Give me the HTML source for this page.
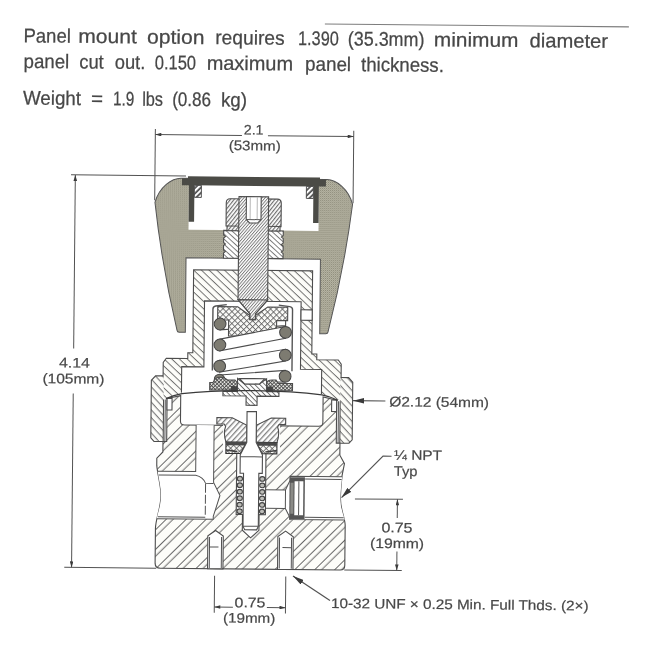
<!DOCTYPE html>
<html><head><meta charset="utf-8">
<style>
html,body{margin:0;padding:0;background:#fff;}
body{width:650px;height:650px;overflow:hidden;font-family:"Liberation Sans",sans-serif;}
svg{display:block;will-change:transform;}
text{font-family:"Liberation Sans",sans-serif;}
.h{font-size:19.8px;fill:#474747;stroke:#474747;stroke-width:0.25;}
.d{font-size:13.8px;fill:#484848;stroke:#484848;stroke-width:0.2;}
.ln{stroke:#525252;stroke-width:1;fill:none;}
.o{stroke:#4d4d4d;stroke-width:1.1;}
</style></head><body>
<svg width="650" height="650" viewBox="0 0 650 650">
<defs>
<pattern id="dots" width="2" height="2" patternUnits="userSpaceOnUse"><rect width="2" height="2" fill="#b7b5a4"/><rect width="1" height="1" fill="#8c8a79"/><rect x="1" y="1" width="1" height="1" fill="#a3a190"/></pattern>
<pattern id="hb" width="14" height="14" patternUnits="userSpaceOnUse" patternTransform="rotate(-45)"><rect width="14" height="14" fill="#fdfdf9"/><line x1="0" y1="0.5" x2="14" y2="0.5" stroke="#686868" stroke-width="1"/><line x1="0" y1="5.3" x2="14" y2="5.3" stroke="#686868" stroke-width="1"/></pattern>
<pattern id="hn" width="5.3" height="5.3" patternUnits="userSpaceOnUse" patternTransform="rotate(43)"><rect width="5.3" height="5.3" fill="#fdfdf9"/><line x1="0" y1="0.5" x2="5.3" y2="0.5" stroke="#6c6c6c" stroke-width="0.95"/></pattern>
<pattern id="hs" width="2.3" height="2.3" patternUnits="userSpaceOnUse" patternTransform="rotate(-50)"><rect width="2.3" height="2.3" fill="#fff"/><line x1="0" y1="0.5" x2="2.3" y2="0.5" stroke="#666" stroke-width="0.8"/></pattern>
<pattern id="hc" width="2.9" height="2.9" patternUnits="userSpaceOnUse" patternTransform="rotate(-52)"><rect width="2.9" height="2.9" fill="#fff"/><line x1="0" y1="0.6" x2="2.9" y2="0.6" stroke="#666" stroke-width="1.1"/></pattern>
<pattern id="hq" width="3.9" height="3.9" patternUnits="userSpaceOnUse" patternTransform="rotate(-48)"><rect width="3.9" height="3.9" fill="#fff"/><line x1="0" y1="0.7" x2="3.9" y2="0.7" stroke="#707070" stroke-width="1.15"/></pattern>
<pattern id="hm" width="5.2" height="5.2" patternUnits="userSpaceOnUse" patternTransform="rotate(47)"><rect width="5.2" height="5.2" fill="#fdfdf9"/><line x1="0" y1="0.6" x2="5.2" y2="0.6" stroke="#6a6a6a" stroke-width="1"/></pattern>
<pattern id="hk" width="3.8" height="3.8" patternUnits="userSpaceOnUse" patternTransform="rotate(-45)"><rect width="3.8" height="3.8" fill="#fff"/><line x1="0" y1="1" x2="3.8" y2="1" stroke="#4a4a4a" stroke-width="1.7"/></pattern>
<pattern id="hl" width="3.8" height="3.8" patternUnits="userSpaceOnUse" patternTransform="rotate(42)"><rect width="3.8" height="3.8" fill="#fff"/><line x1="0" y1="0.5" x2="3.8" y2="0.5" stroke="#707070" stroke-width="0.9"/></pattern>
<pattern id="hr" width="3.6" height="3.6" patternUnits="userSpaceOnUse" patternTransform="rotate(45)"><rect width="3.6" height="3.6" fill="#fff"/><line x1="0" y1="0.5" x2="3.6" y2="0.5" stroke="#666" stroke-width="0.9"/></pattern>
<pattern id="xh" width="4.2" height="4.2" patternUnits="userSpaceOnUse" patternTransform="rotate(45)"><rect width="4.2" height="4.2" fill="#fbfbf8"/><line x1="0" y1="0.5" x2="4.2" y2="0.5" stroke="#5a5a5a" stroke-width="0.8"/><line x1="0.5" y1="0" x2="0.5" y2="4.2" stroke="#5a5a5a" stroke-width="0.8"/></pattern>
<pattern id="xd" width="2.6" height="2.6" patternUnits="userSpaceOnUse" patternTransform="rotate(45)"><rect width="2.6" height="2.6" fill="#f0f0ec"/><line x1="0" y1="0.5" x2="2.6" y2="0.5" stroke="#4a4a4a" stroke-width="0.9"/><line x1="0.5" y1="0" x2="0.5" y2="2.6" stroke="#4a4a4a" stroke-width="0.9"/></pattern>
<marker id="ar" viewBox="0 0 10 6" refX="10" refY="3" markerWidth="6.8" markerHeight="3.6" orient="auto-start-reverse" markerUnits="userSpaceOnUse"><path d="M0,0 L10,3 L0,6 Z" fill="#3c3c3c"/></marker>
<marker id="arL" viewBox="0 0 10 5" refX="10" refY="2.5" markerWidth="11" markerHeight="5.6" orient="auto-start-reverse" markerUnits="userSpaceOnUse"><path d="M0,0 L10,2.5 L0,5 Z" fill="#3a3a3a"/></marker>
</defs>
<rect width="650" height="650" fill="#fff"/>
<g transform="rotate(0.55 325 325)">
<!-- header -->
<line x1="322" y1="24" x2="626" y2="24" stroke="#7d7d7d" stroke-width="1.1"/>
<text class="h" x="20.8" y="45.2" textLength="47.3" lengthAdjust="spacingAndGlyphs">Panel</text>
<text class="h" x="75.6" y="45.2" textLength="58.5" lengthAdjust="spacingAndGlyphs">mount</text>
<text class="h" x="144.3" y="45.2" textLength="57.4" lengthAdjust="spacingAndGlyphs">option</text>
<text class="h" x="212.5" y="45.2" textLength="69.4" lengthAdjust="spacingAndGlyphs">requires</text>
<text class="h" x="295.4" y="45.2" textLength="40.6" lengthAdjust="spacingAndGlyphs">1.390</text>
<text class="h" x="345.2" y="45.2" textLength="76.5" lengthAdjust="spacingAndGlyphs">(35.3mm)</text>
<text class="h" x="431.1" y="45.2" textLength="84.6" lengthAdjust="spacingAndGlyphs">minimum</text>
<text class="h" x="526.9" y="45.2" textLength="78.4" lengthAdjust="spacingAndGlyphs">diameter</text>
<text class="h" x="21.1" y="70.8" textLength="45.6" lengthAdjust="spacingAndGlyphs">panel</text>
<text class="h" x="76.8" y="70.8" textLength="24.4" lengthAdjust="spacingAndGlyphs">cut</text>
<text class="h" x="112.3" y="70.8" textLength="30.5" lengthAdjust="spacingAndGlyphs">out.</text>
<text class="h" x="152.4" y="70.8" textLength="41.2" lengthAdjust="spacingAndGlyphs">0.150</text>
<text class="h" x="204.2" y="70.8" textLength="86.4" lengthAdjust="spacingAndGlyphs">maximum</text>
<text class="h" x="302.6" y="70.8" textLength="46.0" lengthAdjust="spacingAndGlyphs">panel</text>
<text class="h" x="358.6" y="70.8" textLength="82.8" lengthAdjust="spacingAndGlyphs">thickness.</text>
<text class="h" x="20.9" y="107.4" textLength="58.0" lengthAdjust="spacingAndGlyphs">Weight</text>
<text class="h" x="88.9" y="107.4" textLength="12.0" lengthAdjust="spacingAndGlyphs">=</text>
<text class="h" x="110.9" y="107.4" textLength="21.2" lengthAdjust="spacingAndGlyphs">1.9</text>
<text class="h" x="140.1" y="107.4" textLength="20.8" lengthAdjust="spacingAndGlyphs">lbs</text>
<text class="h" x="170.1" y="107.4" textLength="38.8" lengthAdjust="spacingAndGlyphs">(0.86</text>
<text class="h" x="218.9" y="107.4" textLength="26.0" lengthAdjust="spacingAndGlyphs">kg)</text>

<!-- DRAWING -->
<g id="dw" transform="translate(252.6,0)">
<!-- dimension/extension lines (behind) -->
<g class="ln">
<line x1="-99.1" y1="130.6" x2="-99.1" y2="202"/>
<line x1="99.3" y1="130.6" x2="99.3" y2="203"/>
<line x1="-99.1" y1="136.2" x2="-12.5" y2="136.2" marker-start="url(#ar)"/>
<line x1="13.5" y1="136.2" x2="99.3" y2="136.2" marker-end="url(#ar)"/>
<line x1="-183" y1="177.3" x2="-68" y2="177.3"/>
<line x1="-178.7" y1="177.3" x2="-178.7" y2="350.8" marker-start="url(#ar)"/>
<line x1="-178.7" y1="395.8" x2="-178.7" y2="569.8" marker-end="url(#ar)"/>
<line x1="-186" y1="569.8" x2="-94" y2="569.8"/>
<line x1="94" y1="569.8" x2="151.5" y2="569.8"/>
<line x1="104" y1="498.6" x2="152" y2="498.6"/>
<line x1="146.5" y1="498.6" x2="146.5" y2="517.3" marker-start="url(#ar)"/>
<line x1="146.5" y1="550.7" x2="146.5" y2="569.8" marker-end="url(#ar)"/>
<line x1="-35.6" y1="576.8" x2="-35.6" y2="613.8"/>
<line x1="35.6" y1="576.8" x2="35.6" y2="613.8"/>
<line x1="-35.6" y1="608" x2="-17" y2="608" marker-start="url(#ar)"/>
<line x1="17" y1="608" x2="35.6" y2="608" marker-end="url(#ar)"/>
<line x1="133.5" y1="400.4" x2="101.2" y2="400.4" marker-end="url(#arL)" stroke-width="1.2"/>
<polyline points="140.2,455.6 131.7,455.6 90.6,497.4" marker-end="url(#arL)" stroke-width="1.2"/>
<line x1="80" y1="600.5" x2="42.8" y2="576.4" marker-end="url(#arL)" stroke-width="1.2"/>
</g>

<!-- knob -->
<path d="M-73,179.6 C-82,179.6 -94.5,188.5 -98.8,204 Q-91.2,268 -75.5,331.8 Q-75.2,333.7 -73.3,333.7 L-67.2,333.7 L-67.2,259.2 L67.2,259.2 L67.2,333.7 L73.3,333.7 Q75.2,333.7 75.5,331.8 Q91.2,268 98.8,204 C94.5,188.5 82,179.6 73,179.6 Z" fill="url(#dots)" stroke="#555" stroke-width="1"/>
<rect x="-65" y="186" width="130" height="45" fill="#fff"/>
<!-- top plate -->
<path d="M-66,177.6 H66 V179.6 H72 V186.6 H65 V223 H59.5 V186.6 H-59.5 V223 H-65 V186.6 H-72 V179.6 H-66 Z" fill="#4b4b46"/>
<rect x="-59.5" y="186.6" width="7" height="12" fill="url(#hk)" stroke="#444" stroke-width="0.9"/>
<rect x="52.5" y="186.6" width="7" height="12" fill="url(#hk)" stroke="#444" stroke-width="0.9"/>

<!-- lower nut -->
<path d="M-29.8,231.4 H29.8 V236 L28,237.5 L29.8,239 V243.5 L28,245 L29.8,246.5 V251 L28,252.5 L29.8,254 V259 H-29.8 V254 L-28,252.5 L-29.8,251 V246.5 L-28,245 L-29.8,243.5 V239 L-28,237.5 L-29.8,236 Z" fill="url(#hl)" class="o"/>
<!-- cap nut -->
<path d="M-23.5,199.6 H23.5 Q27.5,199.6 27.5,203.6 V227 H26.5 V231.4 H-26.5 V227 H-27.5 V203.6 Q-27.5,199.6 -23.5,199.6 Z" fill="url(#hc)" class="o"/>
<path d="M-26.5,227 H26.5" class="ln" stroke-width="0.7"/>

<!-- bonnet -->
<path d="M-59.5,271 V354 H-64.5 V359.8 H-86 L-89,364 V400.5 L-70.5,394 V368 H-48.3 V302 H48.3 V369.5 H69.5 V394 L89,400.5 V364 L86,359.8 H64.5 V354 H59.5 V271 Z" fill="url(#hn)"/>
<!-- nut -->
<path d="M-89,377.4 H-96.5 L-100.7,382 V439.5 L-97.5,443 H-88.3 V377.4 Z M89,377.4 H96.5 L100.7,382 V439.5 L97.5,443 H88.3 V377.4 Z" fill="url(#hm)"/>
<path d="M-88.3,401 V443 H-97.5 L-100.7,439.5 V382 L-96.5,377.4 H-89 V364 L-86,359.8 H-64.5 V354 H-59.5 V271 H59.5 V354 H64.5 V359.8 H86 L89,364 V377.4 H96.5 L100.7,382 V439.5 L97.5,443 H88.3 V401" fill="none" class="o"/>
<path d="M-70.5,394 V368 H-48.3 V302 H48.3 V369.5 H69.5 V394" fill="none" class="o"/>
<!-- vent hole right -->
<rect x="48.3" y="310" width="11.2" height="10.5" fill="#fff" class="o"/>

<!-- stem -->
<path d="M-14.8,197.4 H14.8 V300.5 L2.7,314.5 V320 H-2.7 V314.5 L-14.8,300.5 Z" fill="url(#hs)" class="o"/>
<path d="M-7.4,197.4 V220.3 L-4,223.7 H4 L7.4,220.3 V197.4 Z" fill="#fff" class="o"/>
<line x1="-7.4" y1="220.3" x2="7.4" y2="220.3" class="ln"/>
<line x1="-3.5" y1="198" x2="-3.5" y2="220" stroke="#999" stroke-width="0.7"/>
<line x1="3.5" y1="198" x2="3.5" y2="220" stroke="#999" stroke-width="0.7"/>

<!-- spring cage lines -->
<g fill="none" stroke="#555" stroke-width="1.4">
<path d="M-39.8,371.5 V310 Q-39.8,307.5 -37,307 L-26,305.6"/>
<path d="M39.8,371.5 V310 Q39.8,307.5 37,307 L26,305.6"/>
</g>
<!-- spring back wires -->
<g fill="#fff" class="o">
<path d="M-32.5,319.1 L33,314 V326 L-32.5,330.9 Z"/>
</g>
<!-- spring button -->
<path d="M-35,307.6 H-15 L-3,316 V320.5 H3 V316 L15,307.6 H35 V321 H24 V336.8 H-24 V321 H-35 Z" fill="url(#xh)" class="o"/>
<!-- stem tip redraw over button -->
<path d="M-14.8,300.5 L-2.7,314.5 V320 H2.7 V314.5 L14.8,300.5 Z" fill="url(#hs)" class="o"/>
<!-- spring wires front -->
<g fill="#fff" class="o">
<path d="M-32.5,340.1 L33,326.8 V338.6 L-32.5,351.9 Z"/>
<path d="M-32.5,361.3 L33,349.7 V361.5 L-32.5,373.1 Z"/>
<path d="M-32.5,376 L33,370.8 V382.3 L-20,384 Z"/>
</g>
<g fill="#7d7b71" stroke="#444" stroke-width="1">
<circle cx="-32.5" cy="325" r="5.9"/><circle cx="-32.5" cy="346" r="5.9"/><circle cx="-32.5" cy="367.2" r="5.9"/><circle cx="-32.5" cy="380.5" r="5.3"/>
<circle cx="33" cy="332.7" r="5.9"/><circle cx="33" cy="355.6" r="5.9"/><circle cx="33" cy="376.7" r="5.9"/>
</g>
<!-- lower spring seat -->
<path d="M-42.3,391 V383.6 H-39 Q-37,378.3 -32,378.3 Q-27,378.3 -25,381 L-17,381 Q-14.5,383 -14.5,385 V391 Z" fill="url(#xd)" class="o"/>
<path d="M14.2,391 V384 Q15,380.5 20,380.5 H24 L26,383.8 H40.5 V391 Z" fill="url(#xd)" class="o"/>
<path d="M-21,387 H-14.5 V392.5 H-21 Z M21,387 H14.2 V392.5 H21 Z" fill="#444"/>
<!-- centre piece -->
<path d="M-14.5,379.3 L-7.5,384.6 H7.5 L14.5,379.3 V392.2 H27 V396.8 H5.2 V406 H-5.8 V396.8 H-29 V392.2 H-14.5 Z" fill="url(#hr)" class="o"/>
<path d="M-12.8,379.3 H12.8 L7.5,384.6 H-7.5 Z" fill="#fff" class="o"/>

<!-- body -->
<path d="M-71.2,397 L-84.8,400 V443 H-88.5 V453.5 L-94.5,459.8 V467 C-93.5,477 -90,487 -90,497 C-90,510 -95,520 -95.2,530 V565 Q-95,569.8 -90,569.8 H90 Q94.5,569.8 94.5,565 V525 C94.5,518 89.5,510 89.5,498 C89.5,488 90.5,480 91,475 L93.2,463.5 L88.5,455 V443 H84.8 V400 L71.2,397 V422.5 Q71.2,426.3 67,426.3 H-67 Q-71.2,426.3 -71.2,422.5 Z" fill="url(#hb)" class="o"/>
<!-- rim notches -->
<rect x="-84.8" y="400" width="5" height="11.5" fill="#fff" class="o"/>
<rect x="79.8" y="400" width="5" height="11.5" fill="#fff" class="o"/>
<path d="M-86.6,401 V443 M86.6,401 V443" class="ln" stroke="#999" stroke-width="0.7"/>

<!-- inlet port + passage -->
<path d="M-55.5,426.3 V472.8 H-93.5 C-92.5,480 -90,489 -90,497 C-90,508 -93,514 -94,520.3 H-37.5 V517.5 L-31,496.5 L-37.5,483.5 V426.3 Z" fill="#fff"/>
<path d="M-55.5,426.3 V472.8 H-93.5 M-94,520.3 H-37.5 V517.5 L-31,496.5 L-37.5,483.5 V426.3" class="ln"/>
<path d="M-92.5,476.5 H-55.5 Q-48,478 -45.5,484.5 H-37.5 M-93,518.3 H-45.5" class="ln" stroke="#777" stroke-width="0.8"/>
<path d="M-45.5,485 V518" class="ln" stroke="#888" stroke-width="0.8" stroke-dasharray="9 2"/>
<!-- outlet port -->
<path d="M14.6,490.3 H34.5 L39,480.5 V476.7 H91 C90.5,483 89.5,490 89.5,498 C89.5,508 92.5,514 94,519.8 H39 V517.5 L34.5,508.8 H14.6 Z" fill="#fff"/>
<path d="M14.6,490.3 H34.5 L39,480.5 V476.7 H91 M94,519.8 H39 V517.5 L34.5,508.8 H14.6" class="ln"/>
<line x1="34.5" y1="490.3" x2="34.5" y2="508.8" class="ln"/>
<path d="M54,479.3 H90.5 M54,517.5 H93" class="ln" stroke="#777" stroke-width="0.8"/>
<!-- filter -->
<rect x="38.5" y="477.5" width="15.3" height="41.8" fill="#555"/>
<rect x="43.5" y="481.5" width="8.8" height="34" fill="#fff"/>
<path d="M47.8,481.5 V515.5" class="ln" stroke-width="0.8"/>
<rect x="39.5" y="483" width="3" height="31" fill="#8a8a86"/>

<!-- retainer bore white -->
<rect x="-28.5" y="425" width="57" height="29" fill="#fff"/>
<!-- poppet bore -->
<path d="M-14.6,452 V515.3 H-8.3 V531 L0,538.5 L8.3,531 V515.3 H14.6 V452 Z" fill="#fff" class="o"/>
<!-- seat retainer -->
<path d="M-34.8,418.6 H-19.5 L-4.7,426 V443 H-25.5 Q-28.5,434 -26,427.5 L-27.5,425 H-34.8 Z M34,418.6 H19.5 L4.7,426 V443 H25.5 Q28.5,434 26,427.5 L27.5,425 H34 Z" fill="url(#hq)" class="o"/>
<!-- seat -->
<path d="M-25.5,443 H-4.7 L-11,454.3 H-25.5 Z M25.5,443 H4.7 L11,454.3 H25.5 Z" fill="url(#xh)" stroke="#333" stroke-width="1.1"/>
<path d="M-25.5,443 H-4.7 L-6,446.3 H-25.5 Z M25.5,443 H4.7 L6,446.3 H25.5 Z" fill="#4a4a4a"/>
<path d="M-25.5,451 L-14,452.5 M25.5,451 L14,452.5" stroke="#444" stroke-width="1.6" fill="none"/>
<!-- poppet -->
<path d="M-4.7,412.3 H4.7 V443 L11.1,455.5 V474 H7.65 V527 L6,530.5 H-6 L-7.65,527 V474 H-11.1 V455.5 L-4.7,443 Z" fill="#fff" class="o"/>
<line x1="-11.1" y1="457.5" x2="11.1" y2="457.5" class="ln"/>
<line x1="-7.65" y1="527" x2="7.65" y2="527" class="ln"/>
<!-- small spring -->
<g fill="#bdbdb8" stroke="#444" stroke-width="1.1"><ellipse cx="-11.2" cy="479.5" rx="2.6" ry="2.3"/><ellipse cx="11.2" cy="479.5" rx="2.6" ry="2.3"/><ellipse cx="-11.2" cy="486" rx="2.6" ry="2.3"/><ellipse cx="11.2" cy="486" rx="2.6" ry="2.3"/><ellipse cx="-11.2" cy="492.5" rx="2.6" ry="2.3"/><ellipse cx="11.2" cy="492.5" rx="2.6" ry="2.3"/><ellipse cx="-11.2" cy="499" rx="2.6" ry="2.3"/><ellipse cx="11.2" cy="499" rx="2.6" ry="2.3"/><ellipse cx="-11.2" cy="505.5" rx="2.6" ry="2.3"/><ellipse cx="11.2" cy="505.5" rx="2.6" ry="2.3"/><ellipse cx="-11.2" cy="512" rx="2.6" ry="2.3"/><ellipse cx="11.2" cy="512" rx="2.6" ry="2.3"/></g>
<!-- mounting holes -->
<path d="M-42.7,569.8 V537 L-35,531.5 L-27.3,537 V569.8 Z M42.7,569.8 V537 L35,531.5 L27.3,537 V569.8 Z" fill="#fff" class="o"/>
<g class="ln" stroke="#888" stroke-width="0.7">
<path d="M-41,538 V569 M-29,538 V569 M-41,548 H-32 M41,538 V569 M29,538 V569 M41,548 H32"/>
</g>
<!-- diaphragm -->
<path d="M-86,400.2 Q-78,396.5 -70,395 Q-40,391.3 0,391.3 Q40,391.3 70,395 Q78,396.5 86,400.2" fill="none" stroke="#3a3a3a" stroke-width="1.3"/>

<!-- dimension text (coords relative to axis) -->
<g class="d">
<text x="-10.6" y="135.2" textLength="19.6" lengthAdjust="spacingAndGlyphs">2.1</text>
<text x="-25.6" y="151" textLength="52" lengthAdjust="spacingAndGlyphs">(53mm)</text>
<text x="-193.2" y="369.9" textLength="30.8" lengthAdjust="spacingAndGlyphs">4.14</text>
<text x="-209.6" y="385.8" textLength="62" lengthAdjust="spacingAndGlyphs">(105mm)</text>
<text x="137.4" y="405.7" textLength="99.8" lengthAdjust="spacingAndGlyphs">Ø2.12 (54mm)</text>
<text x="142.7" y="459" textLength="48" lengthAdjust="spacingAndGlyphs">¼ NPT</text>
<text x="142.7" y="475.2" textLength="23.6" lengthAdjust="spacingAndGlyphs">Typ</text>
<text x="130.8" y="531.7" textLength="31" lengthAdjust="spacingAndGlyphs">0.75</text>
<text x="119.6" y="547.4" textLength="54" lengthAdjust="spacingAndGlyphs">(19mm)</text>
<text x="-15.3" y="608" textLength="30.8" lengthAdjust="spacingAndGlyphs">0.75</text>
<text x="-26.7" y="623.5" textLength="52.2" lengthAdjust="spacingAndGlyphs">(19mm)</text>
<text x="81.1" y="607.9" textLength="257.5" lengthAdjust="spacingAndGlyphs">10-32 UNF × 0.25 Min. Full Thds. (2×)</text>
</g>
</g><!--enddw-->
</g>
</svg>
</body></html>
